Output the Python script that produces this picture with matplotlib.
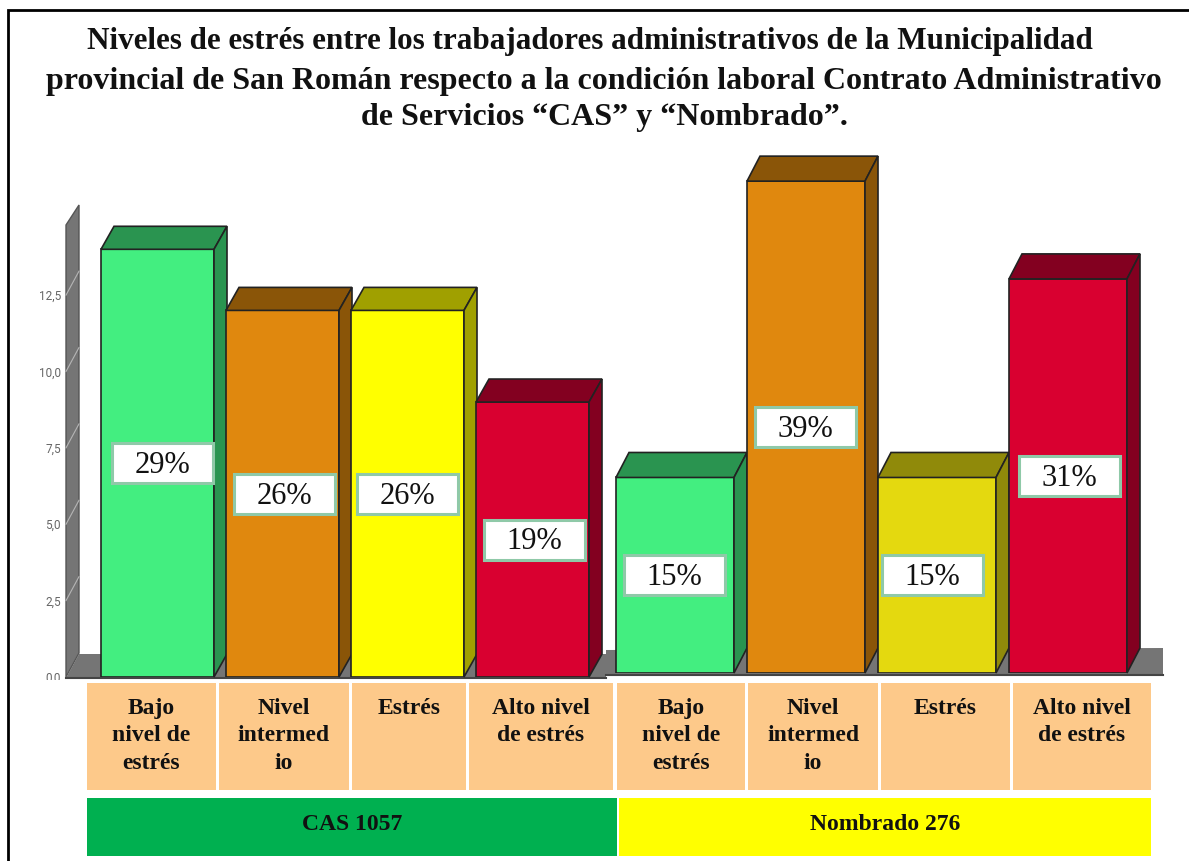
import matplotlib
matplotlib.use("Agg")
import matplotlib.pyplot as plt
from matplotlib.patches import Polygon, Rectangle

plt.rcParams['font.family'] = ['Liberation Serif', 'DejaVu Serif']

W, H = 1189, 861

title_lines = ["Niveles de estrés entre los trabajadores administrativos de la Municipalidad",
               "provincial de San Román respecto a la condición laboral Contrato Administrativo",
               "de Servicios “CAS” y “Nombrado”."]

categories = ["Bajo\nnivel de\nestrés", "Nivel\nintermed\nio", "Estrés", "Alto nivel\nde estrés"]
groups = ["CAS 1057", "Nombrado 276"]

cas_values = [14.0, 12.0, 12.0, 9.0]
nombrado_values = [6.4, 16.1, 6.4, 12.9]
cas_labels = ["29%", "26%", "26%", "19%"]
nombrado_labels = ["15%", "39%", "15%", "31%"]

y_ticks = [0.0, 2.5, 5.0, 7.5, 10.0, 12.5]
y_tick_labels = ["0,0", "2,5", "5,0", "7,5", "10,0", "12,5"]

cas_colors = [("#43EE80", "#2A9450"), ("#E0880E", "#8A5508"), ("#FFFF00", "#A0A000"), ("#D90030", "#830020")]
nombrado_colors = [("#43EE80", "#2A9450"), ("#E0880E", "#8A5508"), ("#E4D90F", "#908A0A"), ("#D90030", "#830020")]

PX_PER_UNIT = 30.55
YMAX = 18

# label boxes are not quite centred on their bars (pixels)
cas_box_shift = [5, 2, -0.5, 1.5]
nombrado_box_shift = [-1, -1, -5, 1.5]


def pixel_axes(left, width, base):
    # axes placed in reference pixels, y grows upwards from the bar baseline
    top = base - YMAX * PX_PER_UNIT
    ax = fig.add_axes([left / W, 1 - base / H, width / W, (base - top) / H])
    ax.set_xlim(-0.5, 3.5)
    ax.set_ylim(0, YMAX)
    ax.patch.set_alpha(0)
    for s in ax.spines.values():
        s.set_visible(False)
    ax.set_xticks([])
    ax.set_yticks([])
    return ax


def bars_3d(ax, values, labels, colors, step, bar_px, dx_px, dy_px, shifts):
    bar_w = bar_px / step
    dx = dx_px / step
    dy = dy_px / PX_PER_UNIT
    box_w = 101 / step
    box_h = 40 / PX_PER_UNIT
    for i, v in enumerate(values):
        l, r = i - bar_w / 2, i + bar_w / 2
        front, side = colors[i]
        ax.bar(i, v, bar_w, color=front, edgecolor="#222222", linewidth=1.2, zorder=3 + i)
        ax.add_patch(Polygon([(l, v), (l + dx, v + dy), (r + dx, v + dy), (r, v)],
                             fc=side, ec="#222222", lw=1.2, zorder=3 + i, clip_on=False))
        ax.add_patch(Polygon([(r, 0), (r + dx, dy), (r + dx, v + dy), (r, v)],
                             fc=side, ec="#222222", lw=1.2, zorder=3 + i, clip_on=False))
    for i, v in enumerate(values):
        cx = i + shifts[i] / step
        ax.add_patch(Rectangle((cx - box_w / 2, v / 2 - box_h / 2), box_w, box_h, fc="white",
                               ec="#8FC9A8", lw=2.2, zorder=20))
        ax.text(cx, v / 2 - 0.08, labels[i], ha="center", va="center", fontsize=22,
                color="#111111", zorder=21)


fig = plt.figure(figsize=(W / 100, H / 100), dpi=100)

# page layer: frame, wall and floor, in reference pixels
bg = fig.add_axes([0, 0, 1, 1])
bg.set_xlim(0, W)
bg.set_ylim(H, 0)
bg.axis("off")
bg.plot([8, 8, W], [H, 10, 10], color="black", lw=2, solid_joinstyle="miter")
bg.text(590, 42, title_lines[0], ha="center", va="center", fontsize=22.4, fontweight="bold", color="#111111")
bg.text(604, 81.5, title_lines[1], ha="center", va="center", fontsize=23, fontweight="bold", color="#111111")
bg.text(604, 118, title_lines[2], ha="center", va="center", fontsize=23, fontweight="bold", color="#111111")
bg.add_patch(Polygon([(66, 225), (79, 205), (79, 653), (66, 677)], fc="#757575", ec="#555555", lw=1))
bg.add_patch(Polygon([(66, 678), (79, 654), (606, 654), (606, 678)], fc="#757575", ec="none"))
bg.add_patch(Polygon([(606, 675), (606, 650), (1163, 648), (1163, 675)], fc="#757575", ec="none"))
bg.plot([66, 606], [678, 678], color="#444444", lw=1.5)
bg.plot([606, 1163], [675, 675], color="#444444", lw=1.5)

ax1 = pixel_axes(95, 500, 677)
ax2 = pixel_axes(675 - 65.5, 524, 673)

bars_3d(ax1, cas_values, cas_labels, cas_colors, 125, 113, 13, 23, cas_box_shift)
bars_3d(ax2, nombrado_values, nombrado_labels, nombrado_colors, 131, 118, 13, 25, nombrado_box_shift)

# value axis of the first group, on the wall
ax1.set_yticks(y_ticks)
ax1.set_yticklabels(y_tick_labels, fontsize=8.5, color="#666666", family="Roboto")
ax1.tick_params(axis="y", length=0, pad=(95 - 61) * 0.72)
wall_x0 = -0.5 + (66 - 95) / 125
wall_x1 = -0.5 + (79 - 95) / 125
for t in y_ticks[1:]:
    ax1.plot([wall_x0, wall_x1], [t, t + 24 / PX_PER_UNIT], color="#B5B5B5", lw=0.8, clip_on=False, zorder=1)

# table under the chart
top = fig.add_axes([0, 0, 1, 1])
top.set_xlim(0, W)
top.set_ylim(H, 0)
top.axis("off")
top.add_patch(Rectangle((30, 680), 55, 12, fc="white", ec="none"))
cell_edges = [(87, 216), (219, 349), (352, 466), (469, 613), (617, 745), (748, 878), (881, 1010), (1013, 1151)]
for (a, b), label in zip(cell_edges, categories + categories):
    top.add_patch(Rectangle((a, 683), b - a, 107, fc="#FDC98A", ec="none"))
    top.text((a + b) / 2, 698, label, ha="center", va="top", fontsize=17, fontweight="bold",
             linespacing=1.4, color="#111111")
top.add_patch(Rectangle((87, 798), 530, 58, fc="#00B050", ec="none"))
top.add_patch(Rectangle((619, 798), 532, 58, fc="#FFFF00", ec="none"))
top.text(352, 824, groups[0], ha="center", va="center", fontsize=17, fontweight="bold", color="#111111")
top.text(885, 824, groups[1], ha="center", va="center", fontsize=17, fontweight="bold", color="#111111")

fig.savefig("out.png", dpi=100)
